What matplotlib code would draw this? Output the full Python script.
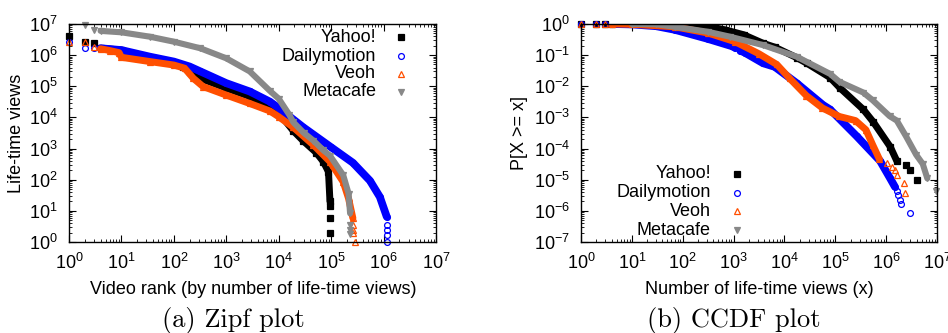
import matplotlib
matplotlib.use("Agg")
import matplotlib.pyplot as plt
import matplotlib.ticker as mticker
import numpy as np

plt.rcParams['font.family'] = ['Liberation Sans', 'DejaVu Sans']
plt.rcParams['font.size'] = 13
plt.rcParams['mathtext.default'] = 'regular'

names = ['Yahoo!', 'Dailymotion', 'Veoh', 'Metacafe']
colors = ['black', '#0000ff', '#ff4f00', '#888888']
markers = ['s', 'o', '^', 'v']
fills = ['full', 'none', 'none', 'full']
msizes = [4.4, 4.2, 4.6, 3.8]
widths = [5.0, 5.6, 5.0, 4.4]

# (a) Zipf: video rank -> life-time views
# dense part (drawn as a band) and separate points (head / tail)
yahoo_z_rank = [4, 10, 35, 100, 150, 200, 320, 1000, 2800, 6800, 1e4, 1.9e4, 2.95e4, 5.2e4, 7.1e4, 8.9e4, 9.5e4]
yahoo_z_views = [1.66e6, 1.45e6, 7.9e5, 5.5e5, 4.3e5, 2.95e5, 1.8e5, 8.7e4, 4.7e4, 2.1e4, 1.4e4, 3.7e3, 1.75e3, 740, 380, 180, 20]
yahoo_z_rank_pts = [1, 2, 3, 9.6e4, 9.6e4, 9.6e4]
yahoo_z_views_pts = [4.2e6, 2.7e6, 2.4e6, 14, 6, 2]

dm_z_rank = [4, 10, 35, 100, 200, 320, 1000, 2800, 6800, 1e4, 2.95e4, 1e5, 2.6e5, 5.5e5, 8.5e5, 1.15e6]
dm_z_views = [1.66e6, 1.45e6, 8.9e5, 6.2e5, 4.3e5, 3.0e5, 1.26e5, 6.8e4, 3.2e4, 2.0e4, 4.8e3, 1.1e3, 350, 93, 28, 6.5]
dm_z_rank_pts = [1, 2, 3, 1.15e6, 1.15e6, 1.15e6, 1.15e6]
dm_z_views_pts = [2.7e6, 1.75e6, 1.75e6, 3.5, 2.4, 1.7, 1]

veoh_z_rank = [4, 6, 9, 10, 35, 100, 160, 235, 360, 1000, 2800, 6800, 1e4, 1.9e4, 4.6e4, 9.5e4, 1.7e5, 2.15e5, 2.6e5]
veoh_z_views = [1.6e6, 1.4e6, 1.2e6, 8.5e5, 6.2e5, 4.8e5, 3.8e5, 1.8e5, 9.8e4, 5.2e4, 2.8e4, 1.6e4, 1.05e4, 4.8e3, 1.3e3, 380, 85, 25, 5.8]
veoh_z_rank_pts = [1, 2, 3, 2.65e5, 2.65e5, 2.65e5, 2.8e5]
veoh_z_views_pts = [2.6e6, 2.55e6, 1.85e6, 3.5, 2.4, 1.9, 1]

meta_z_rank = [4, 10, 35, 100, 320, 1000, 2800, 6800, 1e4, 1.6e4, 1.9e4, 3.0e4, 4.6e4, 7e4, 9.5e4, 1.7e5, 2.15e5, 2.3e5]
meta_z_views = [6.0e6, 5.4e6, 3.9e6, 2.7e6, 1.66e6, 7.9e5, 3.0e5, 7.1e4, 4.0e4, 1.2e4, 7.0e3, 3.2e3, 1.8e3, 900, 590, 140, 36, 8.3]
meta_z_rank_pts = [2, 3, 2.3e5, 2.3e5, 2.3e5]
meta_z_views_pts = [9.0e6, 6.5e6, 3.5, 2.4, 1.8]

# (b) CCDF: life-time views -> P[X >= x]
yahoo_c_x = [4, 100, 316, 676, 1585, 3800, 6460, 1.74e4, 2.75e4, 7.9e4, 1.23e5, 3.55e5, 5.6e5, 1.2e6, 1.62e6]
yahoo_c_p = [1, 0.99, 0.83, 0.65, 0.45, 0.24, 0.18, 0.083, 0.055, 0.019, 0.0089, 0.0018, 7.1e-4, 1.15e-4, 4.0e-5]
yahoo_c_x_pts = [1, 2, 3, 2.5e6, 2.9e6, 4.0e6]
yahoo_c_p_pts = [1, 1, 1, 2.95e-5, 2.04e-5, 1.0e-5]

dm_c_x = [4, 10, 30, 70, 316, 910, 1050]
dm_c_p = [1, 0.97, 0.85, 0.65, 0.33, 0.195, 0.175]
dm_c_x2 = [1350, 1660, 3800, 6460, 1.74e4, 5.75e4, 7.9e4, 2.63e5, 7.6e5, 1.2e6, 1.48e6]
dm_c_p2 = [0.14, 0.12, 0.055, 0.042, 0.0126, 0.0025, 0.0018, 2.5e-4, 4.0e-5, 1.1e-5, 6.0e-6]
dm_c_x_pts = [1, 2, 3, 1.62e6, 1.74e6, 1.86e6, 1.95e6, 2.9e6]
dm_c_p_pts = [1, 1, 1, 4.2e-6, 3.2e-6, 2.3e-6, 1.6e-6, 8.3e-7]

veoh_c_x = [4, 10, 70, 316, 1070, 3160, 7080, 1.26e4, 2.7e4, 5.6e4, 1.2e5, 2.5e5, 4.0e5, 5.5e5, 7.4e5]
veoh_c_p = [1, 0.98, 0.81, 0.51, 0.27, 0.11, 0.05, 0.018, 0.005, 0.002, 0.00107, 7.9e-4, 4.0e-4, 1.26e-4, 4.5e-5]
veoh_c_x_pts = [1, 2, 3, 1.02e6, 1.29e6, 1.48e6, 1.62e6, 2.24e6, 2.4e6]
veoh_c_p_pts = [1, 1, 1, 3.4e-5, 2.6e-5, 2.0e-5, 1.4e-5, 7.6e-6, 3.8e-6]

meta_c_x = [10, 30, 70, 316, 850, 3800, 1.74e4, 7.9e4, 1.2e5, 3.55e5, 5.5e5, 1.17e6, 1.62e6, 2.45e6, 3.9e6, 5.25e6, 6.45e6]
meta_c_p = [1, 0.98, 0.81, 0.56, 0.39, 0.21, 0.089, 0.025, 0.014, 0.0063, 0.0035, 0.0011, 7.9e-4, 2.5e-4, 6.3e-5, 3.2e-5, 1.1e-5]
meta_c_x_pts = [9.5e6]
meta_c_p_pts = [4.2e-6]


def draw(ax, i, x, y, px, py):
    # dense run of points -> thick band, isolated points -> markers
    ax.plot(x, y, color=colors[i], lw=widths[i], solid_capstyle='round',
            solid_joinstyle='round', marker=markers[i], ms=msizes[i],
            fillstyle=fills[i], mew=0.9)
    ax.plot(px, py, ls='none', color=colors[i], marker=markers[i], ms=msizes[i],
            fillstyle=fills[i], mew=0.9, clip_on=False)


def style(ax, ymin, ymax):
    ax.set_xscale('log')
    ax.set_yscale('log')
    ax.set_xlim(1, 1e7)
    ax.set_ylim(ymin, ymax)
    ax.set_xticks([10.0 ** k for k in range(0, 8)])
    lo, hi = int(np.log10(ymin)), int(np.log10(ymax))
    ax.set_yticks([10.0 ** k for k in range(lo, hi + 1)])
    for axis in (ax.xaxis, ax.yaxis):
        axis.set_minor_locator(mticker.LogLocator(base=10, subs=np.arange(2, 10), numticks=30))
        axis.set_minor_formatter(mticker.NullFormatter())
    ax.tick_params(which='both', direction='in', top=True, right=True, labelsize=13, pad=8)
    ax.tick_params(which='major', length=5, width=0.8)
    ax.tick_params(which='minor', length=2.5, width=0.6)
    for s in ax.spines.values():
        s.set_linewidth(1.0)


def legend(ax, xt, xm, ys):
    for i in range(4):
        ax.text(xt, ys[i], names[i], transform=ax.transAxes, ha='right', va='center', fontsize=13)
        ax.plot([xm], [ys[i]], transform=ax.transAxes, ls='none', color=colors[i],
                marker=markers[i], ms=msizes[i], fillstyle=fills[i], mew=0.9, clip_on=False)


fig = plt.figure(figsize=(9.48, 3.33), dpi=100)
ax1 = fig.add_axes([0.0728, 0.2733, 0.3871, 0.6547])
ax2 = fig.add_axes([0.6129, 0.2733, 0.3755, 0.6547])

draw(ax1, 0, yahoo_z_rank, yahoo_z_views, yahoo_z_rank_pts, yahoo_z_views_pts)
draw(ax1, 1, dm_z_rank, dm_z_views, dm_z_rank_pts, dm_z_views_pts)
draw(ax1, 2, veoh_z_rank, veoh_z_views, veoh_z_rank_pts, veoh_z_views_pts)
draw(ax1, 3, meta_z_rank, meta_z_views, meta_z_rank_pts, meta_z_views_pts)
style(ax1, 1, 1e7)
legend(ax1, 0.837, 0.905, [0.940, 0.853, 0.771, 0.688])

draw(ax2, 0, yahoo_c_x, yahoo_c_p, yahoo_c_x_pts, yahoo_c_p_pts)
draw(ax2, 1, dm_c_x, dm_c_p, dm_c_x_pts, dm_c_p_pts)
draw(ax2, 1, dm_c_x2, dm_c_p2, [], [])
draw(ax2, 2, veoh_c_x, veoh_c_p, veoh_c_x_pts, veoh_c_p_pts)
draw(ax2, 3, meta_c_x, meta_c_p, meta_c_x_pts, meta_c_p_pts)
style(ax2, 1e-7, 1)
legend(ax2, 0.365, 0.438, [0.312, 0.225, 0.142, 0.055])

fig.text(253 / 948, 1 - 289 / 333, 'Video rank (by number of life-time views)', ha='center', va='center', fontsize=13)
fig.text(759 / 948, 1 - 289 / 333, 'Number of life-time views (x)', ha='center', va='center', fontsize=13)
fig.text(17 / 948, 1 - 133 / 333, 'Life-time views', rotation=90, ha='center', va='center', fontsize=13)
fig.text(519 / 948, 1 - 133 / 333, 'P[X >= x]', rotation=90, ha='center', va='center', fontsize=13)
fig.text(233 / 948, 1 - 321 / 333, '(a) Zipf plot', ha='center', va='center', fontsize=19, family='cmr10')
fig.text(734 / 948, 1 - 321 / 333, '(b) CCDF plot', ha='center', va='center', fontsize=19, family='cmr10')

fig.savefig('out.png', dpi=100)
